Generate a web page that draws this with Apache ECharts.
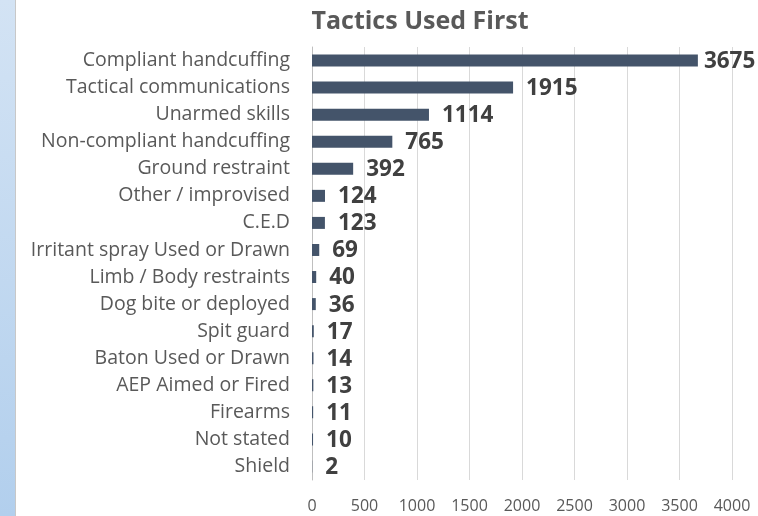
<!DOCTYPE html>
<html><head><meta charset="utf-8">
<script src="https://cdn.jsdelivr.net/npm/echarts@6/dist/echarts.min.js"></script>
<style>html,body{margin:0;padding:0;background:#fff}#c{width:758px;height:516px}</style>
</head><body><div id="c"></div>
<script>
var categories = ["Compliant handcuffing","Tactical communications","Unarmed skills","Non-compliant handcuffing","Ground restraint","Other / improvised","C.E.D","Irritant spray Used or Drawn","Limb / Body restraints","Dog bite or deployed","Spit guard","Baton Used or Drawn","AEP Aimed or Fired","Firearms","Not stated","Shield"];
var values = [3675,1915,1114,765,392,124,123,69,40,36,17,14,13,11,10,2];
var xTicks = [0,500,1000,1500,2000,2500,3000,3500,4000];

var maxV = Math.max.apply(null, values);
var seriesData = values.map(function(v){
  return v === maxV ? {value: v, label: {distance: 6}} : v;
});

var chart = echarts.init(document.getElementById('c'));
chart.setOption({
  backgroundColor: '#fff',
  animation: false,
  graphic: [
    {type:'rect', shape:{x:0,y:0,width:15,height:516}, style:{fill:{type:'linear',x:0,y:0,x2:0,y2:1,colorStops:[{offset:0,color:'#d3e3f4'},{offset:1,color:'#b2cfed'}]}}},
    {type:'rect', shape:{x:15,y:0,width:1,height:516}, style:{fill:'#c8c8c8'}}
  ],
  title: {
    text: 'Tactics Used First', left: 415, top: 4, textAlign: 'center',
    textStyle: {fontFamily: 'Open Sans', fontWeight: 'bold', fontSize: 25, color: '#595959'}
  },
  grid: {left: 312, right: 26, top: 47, bottom: 36, containLabel: false},
  xAxis: {
    type: 'value', min: xTicks[0], max: xTicks[xTicks.length-1], interval: 500,
    axisLine: {show: false}, axisTick: {show: false},
    splitLine: {lineStyle: {color: '#d9d9d9', width: 1}},
    axisLabel: {fontFamily: 'Open Sans', fontSize: 16, color: '#595959', margin: 18, formatter: function(v){return String(v);}}
  },
  yAxis: {
    type: 'category', data: categories, inverse: true,
    axisLine: {show: true, lineStyle: {color: '#bfbfbf'}}, axisTick: {show: false},
    axisLabel: {fontFamily: 'Open Sans', fontSize: 19.5, color: '#595959', margin: 22}
  },
  series: [{
    type: 'bar', data: seriesData, barWidth: 12,
    itemStyle: {color: '#44546a'},
    label: {show: true, position: 'right', distance: 13, offset: [0, 1], fontFamily: 'Open Sans', fontWeight: 'bold', fontSize: 22.5, color: '#404040'}
  }]
});
</script></body></html>
